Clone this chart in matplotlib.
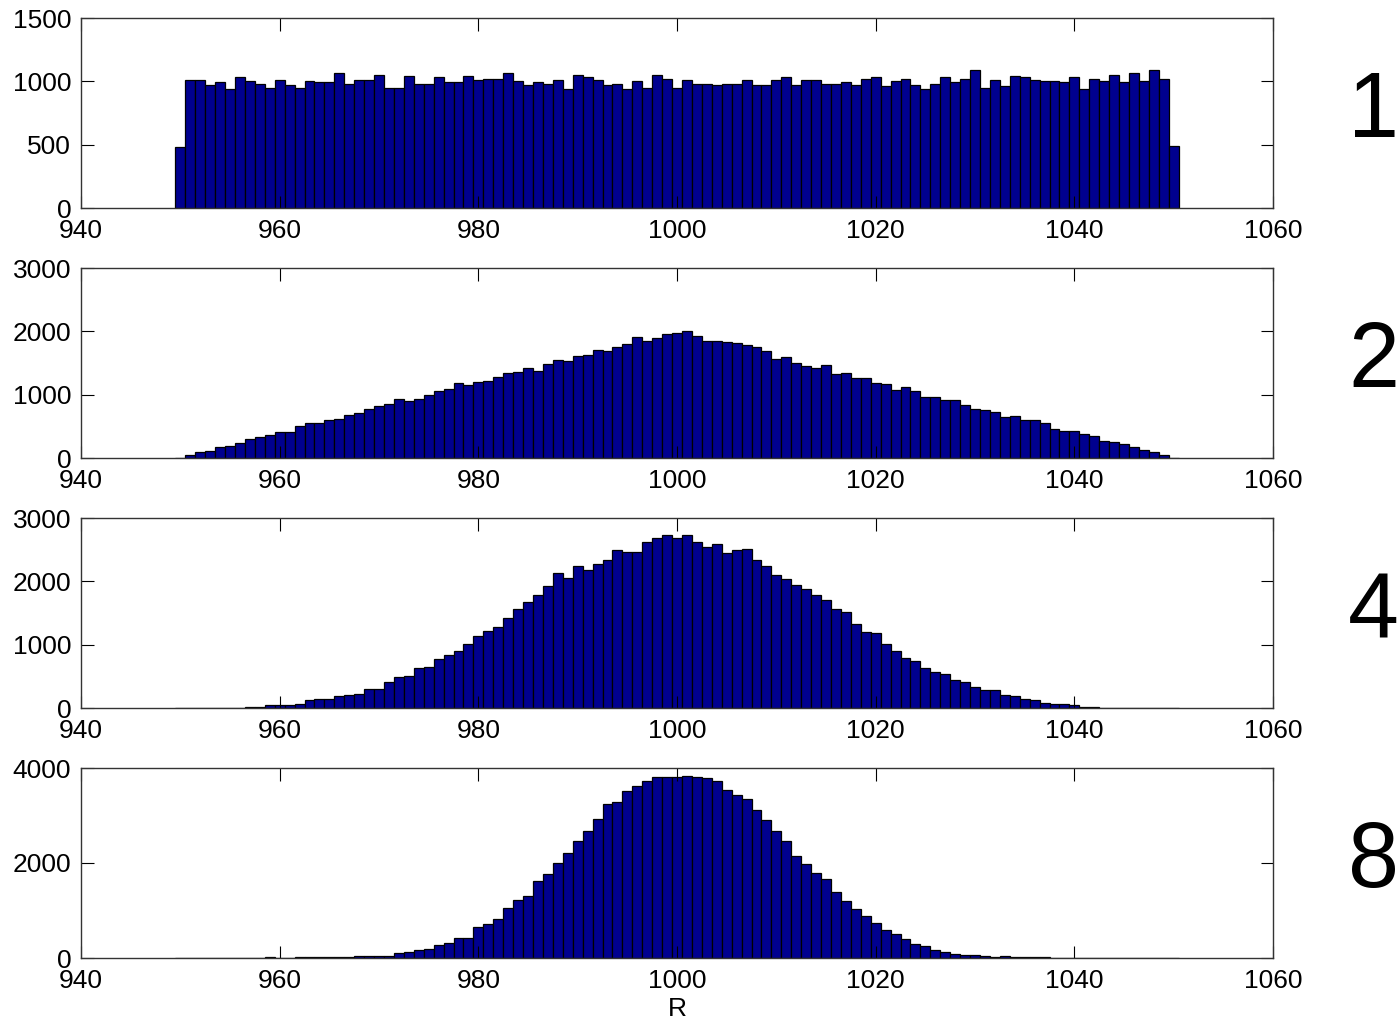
import numpy as np
import matplotlib
matplotlib.use('Agg')
import matplotlib.pyplot as plt

plt.rcParams['font.family'] = ['Liberation Sans', 'DejaVu Sans']

# bin centres (1 unit wide)
R = np.arange(950, 1051)

# counts, one list per panel (950 ... 1050)
counts_1 = [484, 1010, 1010, 968, 992, 940, 1032, 1003, 982, 950,
            1010, 971, 950, 1003, 992, 992, 1063, 982, 1010, 1010,
            1053, 950, 950, 1042, 982, 982, 1032, 992, 992, 1042,
            1010, 1021, 1021, 1063, 1003, 968, 992, 982, 1010, 940,
            1053, 1032, 1010, 968, 982, 940, 1003, 950, 1053, 1021,
            950, 1010, 982, 982, 968, 982, 982, 1010, 968, 968,
            1010, 1032, 968, 1010, 1010, 982, 982, 992, 968, 1021,
            1032, 960, 1003, 1021, 968, 940, 982, 1032, 992, 1021,
            1092, 950, 1010, 960, 1042, 1032, 1010, 1003, 1003, 992,
            1032, 940, 1021, 1003, 1053, 992, 1063, 1003, 1092, 1021,
            487]
counts_2 = [0, 53, 95, 116, 174, 195, 237, 295, 337, 358,
            416, 407, 508, 550, 550, 593, 608, 672, 714, 772,
            815, 852, 937, 894, 937, 995, 1053, 1095, 1185, 1159,
            1196, 1217, 1275, 1344, 1360, 1423, 1381, 1487, 1545, 1524,
            1603, 1624, 1704, 1683, 1759, 1796, 1916, 1853, 1890, 1954,
            1975, 2011, 1932, 1853, 1853, 1833, 1812, 1780, 1750, 1690,
            1570, 1590, 1500, 1460, 1420, 1470, 1320, 1340, 1270, 1270,
            1190, 1170, 1080, 1120, 1060, 960, 960, 920, 920, 840,
            780, 760, 720, 640, 660, 600, 600, 560, 460, 420,
            420, 379, 352, 274, 253, 216, 174, 132, 95, 53,
            0]
counts_4 = [0, 0, 0, 0, 0, 0, 0, 20, 20, 42,
            42, 42, 63, 127, 148, 148, 185, 206, 228, 307,
            307, 407, 487, 508, 630, 651, 772, 831, 894, 1016,
            1138, 1217, 1275, 1423, 1561, 1667, 1783, 1921, 2132, 2058,
            2238, 2180, 2280, 2344, 2496, 2460, 2460, 2620, 2682, 2727,
            2682, 2727, 2620, 2548, 2586, 2443, 2500, 2503, 2344, 2238,
            2101, 2037, 1937, 1873, 1783, 1704, 1571, 1508, 1323, 1201,
            1180, 1016, 894, 794, 735, 630, 571, 529, 450, 407,
            328, 286, 286, 206, 185, 148, 127, 85, 63, 63,
            42, 21, 21, 0, 0, 0, 0, 0, 0, 0,
            0]
counts_8 = [0, 0, 0, 0, 0, 0, 0, 0, 0, 28,
            0, 0, 25, 25, 25, 25, 25, 25, 50, 50,
            50, 50, 113, 134, 162, 190, 268, 324, 430, 430,
            648, 725, 831, 1049, 1211, 1296, 1613, 1761, 2000, 2218,
            2465, 2676, 2923, 3246, 3275, 3514, 3620, 3725, 3810, 3810,
            3810, 3838, 3810, 3782, 3725, 3542, 3437, 3352, 3113, 2901,
            2683, 2465, 2141, 1986, 1789, 1655, 1387, 1197, 1028, 894,
            732, 599, 514, 408, 303, 246, 162, 134, 85, 56,
            56, 42, 28, 42, 28, 28, 28, 28, 0, 0,
            0, 0, 0, 0, 0, 0, 0, 0, 0, 0,
            0]

panel_labels = ['1', '2', '4', '8']
panel_counts = [counts_1, counts_2, counts_4, counts_8]
panel_yticks = [[0, 500, 1000, 1500], [0, 1000, 2000, 3000],
                [0, 1000, 2000, 3000], [0, 2000, 4000]]

W, H = 1399, 1023
fig = plt.figure(figsize=(W / 100, H / 100), dpi=100)

bar_color = (0, 0, 0.5625)
tops = [18, 268, 518, 768]

for top, lab, cnt, yt in zip(tops, panel_labels, panel_counts, panel_yticks):
    ax = fig.add_axes([81 / W, 1 - (top + 190) / H, 1192 / W, 190 / H])
    ax.bar(R, cnt, width=1.0, color=bar_color, edgecolor='black', linewidth=0.9)
    ax.set_xlim(940, 1060)
    ax.set_ylim(yt[0], yt[-1])
    ax.set_xticks(np.arange(940, 1061, 20))
    ax.set_yticks(yt)
    ax.tick_params(direction='in', top=True, right=True, length=9, width=0.8,
                   labelsize=19, colors='black')
    ax.tick_params(axis='x', pad=8)
    ax.tick_params(axis='y', pad=7)
    for s in ax.spines.values():
        s.set_linewidth(1.0)
        s.set_color('#333333')
    fig.text(1348 / W, 1 - (top + 95) / H, lab, fontsize=66,
             ha='left', va='center')

fig.text(677 / W, 1 - 1009 / H, 'R', fontsize=19, ha='center', va='center')

fig.savefig('out.png', dpi=100)
